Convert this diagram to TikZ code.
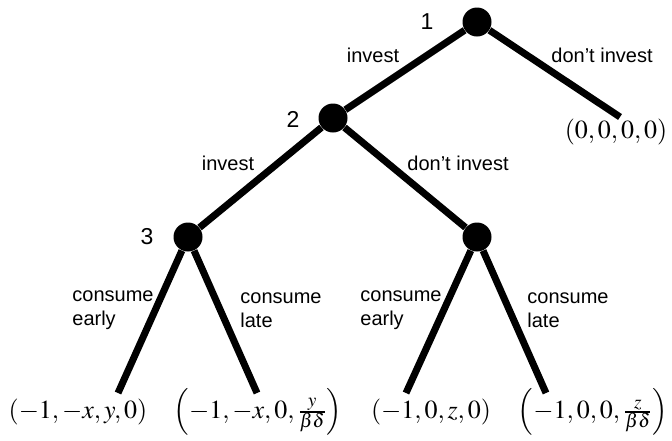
\documentclass[tikz,border=0pt]{standalone}
\usepackage{mathptmx}
\usepackage[no-math]{fontspec}
\setmainfont{Liberation Serif}
\setsansfont{Liberation Sans}
\usetikzlibrary{positioning}

\begin{document}
\begin{tikzpicture}[
  x=0.5pt, y=-0.5pt,
  every node/.style={font=\sffamily\fontsize{10}{12}\selectfont},
  decision/.style={circle, fill=black, minimum size=14.5pt, inner sep=0pt},
  player/.style={font=\sffamily\fontsize{11.5}{13}\selectfont},
  branch/.style={line width=3.5pt},
  payoff/.style={font=\rmfamily\fontsize{13}{15}\selectfont, inner sep=0pt},
  move/.style={align=left, anchor=west, inner sep=0pt}
]
  \useasboundingbox (0,0) rectangle (672,440);

  % decision nodes
  \node[decision] (root) at (477,22) {};
  \node[decision] (n2) at (333,118) {};
  \node[decision] (n3) at (188,237) {};
  \node[decision] (n4) at (477,237) {};

  \node[player] (p1) at (427,22) {1};
  \node[player] (p2) at (293,119) {2};
  \node[player] (p3) at (147,237) {3};

  % leaf ends
  \coordinate (l0) at (620,117);
  \coordinate (l1) at (118,393);
  \coordinate (l2) at (257,393);
  \coordinate (l3) at (406,393);
  \coordinate (l4) at (546,393);

  % branches
  \draw[branch] (root) -- (n2);
  \draw[branch] (root) -- (l0);
  \draw[branch] (n2) -- (n3);
  \draw[branch] (n2) -- (n4);
  \draw[branch] (n3) -- (l1);
  \draw[branch] (n3) -- (l2);
  \draw[branch] (n4) -- (l3);
  \draw[branch] (n4) -- (l4);

  % action labels
  \node (a1) at (373,55) {invest};
  \node (a2) at (602,55) {don't invest};
  \node (a3) at (228,163) {invest};
  \node (a4) at (458,163) {don't invest};
  \node[move] (a5) at (72,310) {consume\\early};
  \node[move] (a6) at (240,310) {consume\\late};
  \node[move] (a7) at (360,310) {consume\\early};
  \node[move] (a8) at (527,310) {consume\\late};

  % payoffs
  \node[payoff] (o0) at (616,132) {$(0,0,0,0)$};
  \node[payoff] (o1) at (78,412) {$(-1,-x,y,0)$};
  \node[payoff] (o2) at (258,412) {$\left(-1,-x,0,\frac{y}{\beta\delta}\right)$};
  \node[payoff] (o3) at (431,412) {$(-1,0,z,0)$};
  \node[payoff] (o4) at (593,412) {$\left(-1,0,0,\frac{z}{\beta\delta}\right)$};
\end{tikzpicture}
\end{document}
